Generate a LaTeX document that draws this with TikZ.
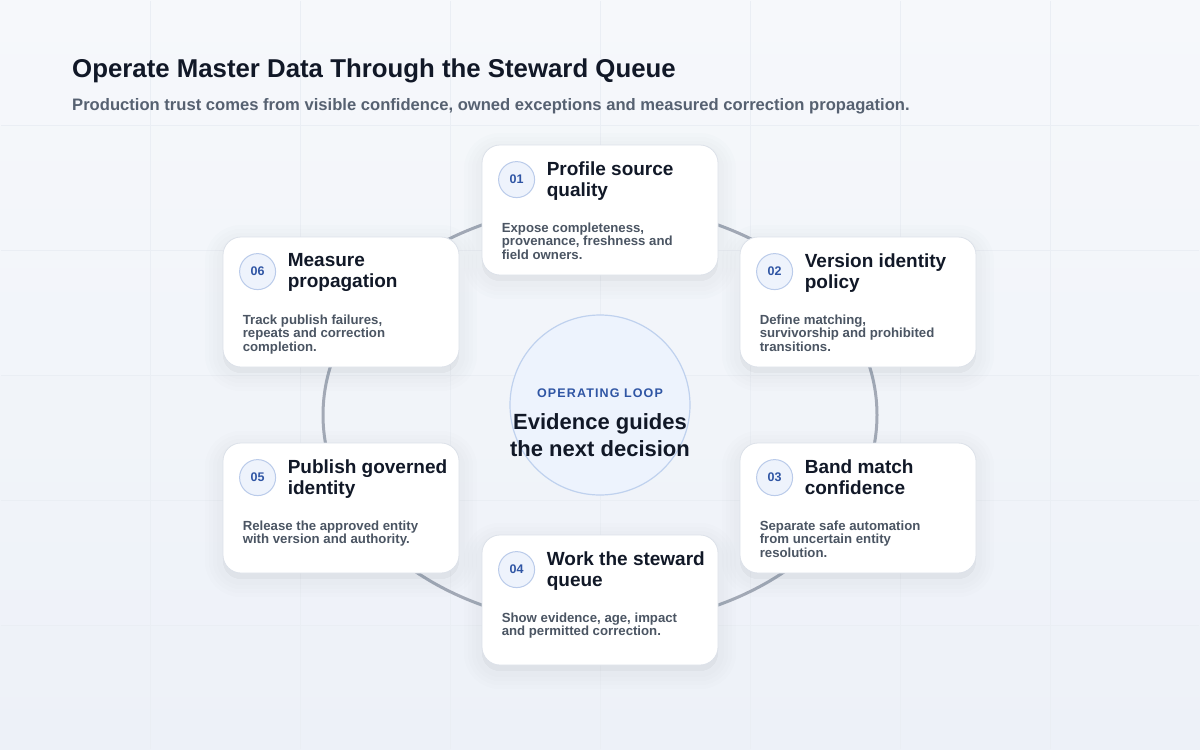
\documentclass[tikz,border=0pt]{standalone}
\usepackage{fontspec}
\setmainfont{Liberation Sans}
\usetikzlibrary{positioning}
\definecolor{ink}{HTML}{111827}
\definecolor{slate}{HTML}{4B5563}
\definecolor{subgray}{HTML}{566171}
\definecolor{ringgray}{HTML}{A3A9B6}
\definecolor{cardline}{HTML}{DCE1E9}
\definecolor{badgefill}{HTML}{EEF3FC}
\definecolor{badgeline}{HTML}{BACBEA}
\definecolor{badgeink}{HTML}{2F55A4}
\definecolor{loopfill}{HTML}{EDF3FD}
\definecolor{loopline}{HTML}{BFD1EE}
\definecolor{bgtop}{HTML}{F6F8FB}
\definecolor{bgbottom}{HTML}{EDF1F8}
\definecolor{gridline}{HTML}{EAEEF4}
\definecolor{shadowc}{HTML}{475569}
\tikzset{
softshade/.style={preaction={draw=shadowc, fill=shadowc, line width=#1, draw opacity=0.012, fill opacity=0.012, transform canvas={yshift=-6pt}}},
card/.style={rectangle, rounded corners=18pt, minimum width=236pt, minimum height=130pt, draw=cardline, line width=0.8pt, fill=white, softshade=36pt, softshade=28pt, softshade=20pt, softshade=12pt},
badge/.style={circle, minimum size=36pt, inner sep=0pt, draw=badgeline, line width=1pt, fill=badgefill, text=badgeink, font=\bfseries\fontsize{12.5}{14}\selectfont},
head/.style={anchor=north west, inner sep=0pt, align=left, text=ink, font=\bfseries\fontsize{19}{21}\selectfont},
note/.style={anchor=north west, inner sep=0pt, align=left, text=slate, font=\bfseries\fontsize{13.2}{13.5}\selectfont},
ring/.style={draw=ringgray, line width=3pt},
hub/.style={circle, minimum size=180pt, inner sep=0pt, draw=loopline, line width=1.2pt, fill=loopfill}
}

\begin{document}
\begin{tikzpicture}[x=1pt,y=-1pt]
        % page
        \shade[top color=bgtop, bottom color=bgbottom] (0,0) rectangle (1200,750);
        \draw[gridline, line width=0.7pt] (1,749) grid[xstep=150pt, ystep=125pt] (1199,1);
        \useasboundingbox (0,0) rectangle (1200,750);

        \node[anchor=base west, inner sep=0pt, text=ink, font=\bfseries\fontsize{25.8}{30}\selectfont] (title) at (72,77) {Operate Master Data Through the Steward Queue};
        \node[anchor=base west, inner sep=0pt, text=subgray, font=\bfseries\fontsize{16.6}{19}\selectfont] (subtitle) at (72,110) {Production trust comes from visible confidence, owned exceptions and measured correction propagation.};

        % loop
        \draw[ring] (600,415) ellipse [x radius=277, y radius=210];
        \node[hub] (loop) at (600,405) {};
        \node[text=badgeink, font=\bfseries\fontsize{12.5}{14}\selectfont] (looptag) at (600,393) {\addfontfeatures{LetterSpace=9}OPERATING LOOP};
        \node[align=center, text=ink, font=\bfseries\fontsize{22}{27}\selectfont] (loopmsg) at (600,435.5) {Evidence guides\\the next decision};

        % steps
        \node[card] (profile) at (600,210) {};
        \node[badge] (n01) at ([shift={(35,35)}]profile.north west) {01};
        \node[head] (profile-head) at ([shift={(65,17)}]profile.north west) {Profile source\\quality};
        \node[note] (profile-note) at ([shift={(20,78)}]profile.north west) {Expose completeness,\\provenance, freshness and\\field owners.};

        \node[card] (version) at (858,302) {};
        \node[badge] (n02) at ([shift={(35,35)}]version.north west) {02};
        \node[head] (version-head) at ([shift={(65,17)}]version.north west) {Version identity\\policy};
        \node[note] (version-note) at ([shift={(20,78)}]version.north west) {Define matching,\\survivorship and prohibited\\transitions.};

        \node[card] (band) at (858,508) {};
        \node[badge] (n03) at ([shift={(35,35)}]band.north west) {03};
        \node[head] (band-head) at ([shift={(65,17)}]band.north west) {Band match\\confidence};
        \node[note] (band-note) at ([shift={(20,78)}]band.north west) {Separate safe automation\\from uncertain entity\\resolution.};

        \node[card] (work) at (600,600) {};
        \node[badge] (n04) at ([shift={(35,35)}]work.north west) {04};
        \node[head] (work-head) at ([shift={(65,17)}]work.north west) {Work the steward\\queue};
        \node[note] (work-note) at ([shift={(20,78)}]work.north west) {Show evidence, age, impact\\and permitted correction.};

        \node[card] (publish) at (341,508) {};
        \node[badge] (n05) at ([shift={(35,35)}]publish.north west) {05};
        \node[head] (publish-head) at ([shift={(65,17)}]publish.north west) {Publish governed\\identity};
        \node[note] (publish-note) at ([shift={(20,78)}]publish.north west) {Release the approved entity\\with version and authority.};

        \node[card] (measure) at (341,302) {};
        \node[badge] (n06) at ([shift={(35,35)}]measure.north west) {06};
        \node[head] (measure-head) at ([shift={(65,17)}]measure.north west) {Measure\\propagation};
        \node[note] (measure-note) at ([shift={(20,78)}]measure.north west) {Track publish failures,\\repeats and correction\\completion.};
\end{tikzpicture}
\end{document}
